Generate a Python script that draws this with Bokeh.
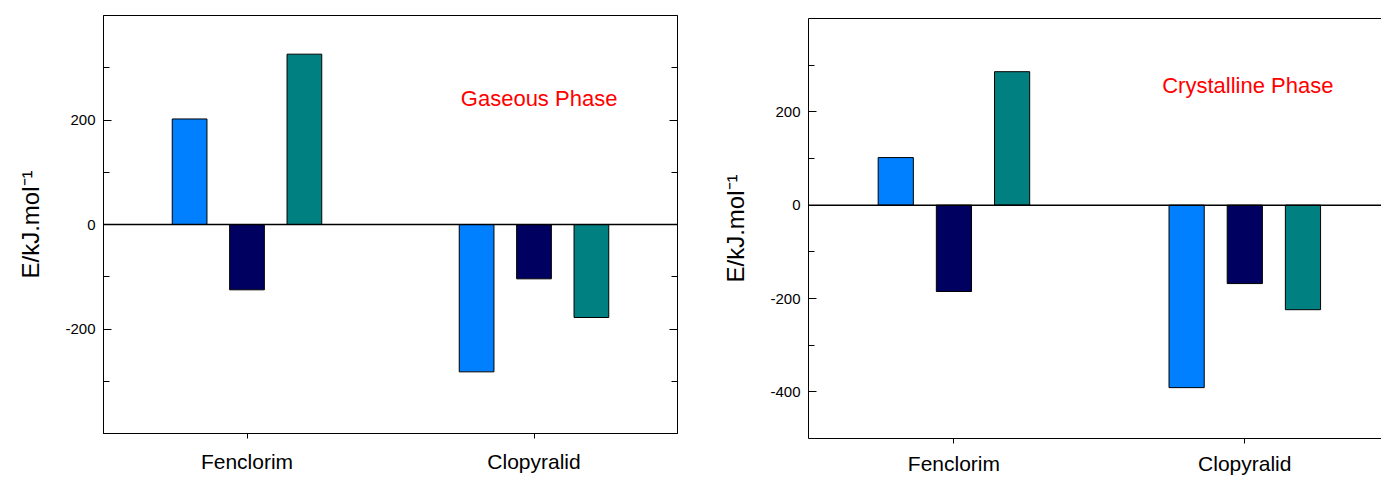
from bokeh.plotting import figure
from bokeh.models import Range1d, FixedTicker, LinearAxis, Span, Label
from bokeh.layouts import row, column
from bokeh.embed import file_html
from bokeh.resources import INLINE

# ---- data ----
categories = ["Fenclorim", "Clopyralid"]
gas_series_1 = [202, -282]
gas_series_2 = [-125, -104]
gas_series_3 = [326, -178]
cry_series_1 = [102, -391]
cry_series_2 = [-185, -168]
cry_series_3 = [286, -224]
gas_yticks = [-200, 0, 200]
gas_yminor = [-300, -100, 100, 300]
cry_yticks = [-400, -200, 0, 200]
cry_yminor = [-300, -100, 100, 300]
gas_title = "Gaseous Phase"
cry_title = "Crystalline Phase"
y_label = "E/kJ.mol\u207b\u00b9"

colors = ["#0080FF", "#000060", "#008080"]
offsets = [-0.2, 0.0, 0.2]
FONT = "Liberation Sans"


def make_panel(width, y_range, x_end, series, yticks, yminor, title, title_pos,
               mb_left, mb_right, mb_top, mb_bottom, full_frame, x_standoff, x_lh):
    p = figure(width=width, height=477, output_backend="svg", toolbar_location=None,
               x_range=Range1d(0.5, x_end), y_range=Range1d(*y_range),
               min_border_left=mb_left, min_border_right=mb_right,
               min_border_top=mb_top, min_border_bottom=mb_bottom,
               background_fill_color="white", border_fill_color="white")
    p.grid.visible = False
    p.outline_line_color = "black" if full_frame else None
    p.outline_line_width = 1

    xpos = list(range(1, len(categories) + 1))
    for vals, col, off in zip(series, colors, offsets):
        p.vbar(x=[x + off for x in xpos], top=vals, bottom=0, width=0.121,
               fill_color=col, line_color="black", line_width=1)

    p.add_layout(Span(location=0, dimension="width", line_color="black", line_width=1.5))

    # x axis
    xa = p.xaxis[0]
    xa.ticker = FixedTicker(ticks=xpos)
    xa.major_label_overrides = {x: c for x, c in zip(xpos, categories)}
    xa.major_tick_in = 0
    xa.major_tick_out = 5
    xa.minor_tick_line_color = None
    xa.major_label_standoff = x_standoff
    xa.major_label_text_font = FONT
    xa.major_label_text_font_size = "21px"
    xa.major_label_text_line_height = x_lh
    xa.major_label_text_color = "black"
    xa.axis_line_color = "black"

    # y axis
    ya = p.yaxis[0]
    ya.ticker = FixedTicker(ticks=yticks, minor_ticks=yminor)
    ya.major_label_overrides = {t: str(t) for t in yticks}
    ya.major_tick_in = 8
    ya.major_tick_out = 0
    ya.minor_tick_in = 6
    ya.minor_tick_out = 0
    ya.major_label_standoff = 8
    ya.major_label_text_font = FONT
    ya.major_label_text_font_size = "15px"
    ya.major_label_text_color = "black"
    ya.axis_label = y_label
    ya.axis_label_text_font = FONT
    ya.axis_label_text_font_size = "24px"
    ya.axis_label_text_font_style = "normal"
    ya.axis_label_text_color = "black"
    ya.axis_label_standoff = 18
    ya.axis_line_color = "black"

    if full_frame:
        ra = LinearAxis(ticker=FixedTicker(ticks=yticks, minor_ticks=yminor),
                        major_tick_in=8, major_tick_out=0, minor_tick_in=6, minor_tick_out=0,
                        major_label_text_color=None, major_label_standoff=0,
                        axis_line_color="black")
        p.add_layout(ra, "right")
    else:
        ta = LinearAxis(ticker=FixedTicker(ticks=[]), major_tick_in=0, major_tick_out=0,
                        minor_tick_in=0, minor_tick_out=0,
                        major_label_text_color=None, major_label_standoff=0,
                        axis_line_color="black")
        p.add_layout(ta, "above")

    p.add_layout(Label(x=title_pos[0], y=title_pos[1], text=title, text_color="red",
                       text_font=FONT, text_font_size="22px", text_baseline="middle"))
    return p


p1 = make_panel(700, (-400, 400), 2.5, [gas_series_1, gas_series_2, gas_series_3],
                gas_yticks, gas_yminor, gas_title, (1.745, 241.5),
                103, 23, 15, 44, True, 11, 1.2)
p2 = make_panel(681, (-500, 400), 2.47, [cry_series_1, cry_series_2, cry_series_3],
                cry_yticks, cry_yminor, cry_title, (1.716, 255.5),
                108, 0, 18, 39, False, 8, 0.8)

layout = row(column(p1), column(p2))
open("out.html", "w").write(file_html(layout, INLINE))
